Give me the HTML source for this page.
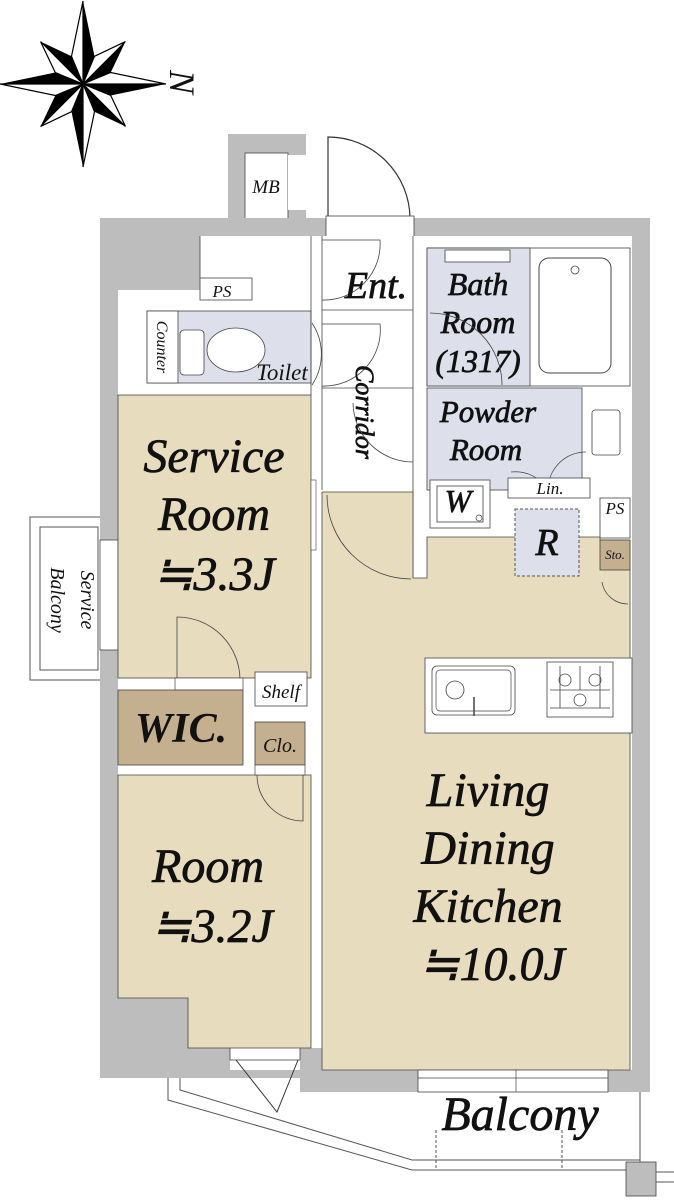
<!DOCTYPE html>
<html><head><meta charset="utf-8"><style>
html,body{margin:0;padding:0;background:#fff;}
svg{display:block}
text{font-family:"Liberation Serif",serif;font-style:italic;fill:#111;}
.big{stroke:#111;stroke-width:0.7;}
</style></head><body>
<svg width="674" height="1200" viewBox="0 0 674 1200" xmlns="http://www.w3.org/2000/svg">
<defs>
<g id="la"><polygon points="0,0 0,-83 11.5,-27.7" fill="#000"/><polygon points="0,0 0,-83 -11.5,-27.7" fill="#fff" stroke="#000" stroke-width="1.2"/></g>
<g id="sa"><polygon points="0,0 0,-60 11.5,-27.7" fill="#000"/><polygon points="0,0 0,-60 -11.5,-27.7" fill="#fff" stroke="#000" stroke-width="1.2"/></g>
</defs>
<g transform="translate(83,84)">
<use href="#sa" transform="rotate(45)"/><use href="#sa" transform="rotate(135)"/><use href="#sa" transform="rotate(225)"/><use href="#sa" transform="rotate(315)"/>
<use href="#la"/><use href="#la" transform="rotate(90)"/><use href="#la" transform="rotate(180)"/><use href="#la" transform="rotate(270)"/>
</g>
<text x="0" y="0" font-size="36" transform="translate(170,70) rotate(90)">N</text>

<!-- service balcony -->
<rect x="30" y="517" width="72" height="163" fill="#fff" stroke="#555" stroke-width="1"/>
<rect x="40" y="527" width="58" height="143" fill="#fff" stroke="#555" stroke-width="1"/>
<text font-size="20" text-anchor="middle" transform="translate(81,600) rotate(90)">Service</text>
<text font-size="20" text-anchor="middle" transform="translate(51,600) rotate(90)">Balcony</text>

<!-- MB -->
<rect x="228" y="134" width="78" height="86" fill="#bdbdbd"/>
<rect x="245" y="153" width="43" height="67" fill="#fff" stroke="#444" stroke-width="0.8"/>
<rect x="288" y="155" width="18" height="55" fill="#fff"/>
<text x="266" y="193" font-size="19" text-anchor="middle">MB</text>

<path d="M328,218 L328,137 A82,82 0 0 1 410,218" fill="none" stroke="#333" stroke-width="1.2"/>

<!-- outer walls -->
<rect x="100" y="218" width="550" height="874" fill="#bdbdbd"/>
<rect x="100" y="1078" width="205" height="16" fill="#fff"/>
<rect x="326" y="216" width="88" height="22" fill="#fff" stroke="#444" stroke-width="0.8"/>
<rect x="200" y="236" width="432" height="834" fill="#fff"/>
<rect x="118" y="290" width="200" height="708" fill="#fff"/>
<rect x="188" y="990" width="120" height="58" fill="#fff"/>
<rect x="305" y="1040" width="10" height="30" fill="#fff"/>
<rect x="188" y="1048" width="42" height="30" fill="#bdbdbd"/>
<rect x="300" y="1048" width="22" height="44" fill="#bdbdbd"/>
<rect x="230" y="1046" width="70" height="14" fill="#fff" stroke="#444" stroke-width="0.8"/>
<path d="M236,1060 L277,1112 L298,1060" fill="none" stroke="#333" stroke-width="1"/>
<rect x="100" y="540" width="18" height="110" fill="#fff" stroke="#444" stroke-width="0.8"/>

<!-- PS top -->
<rect x="200" y="278" width="52" height="22" fill="#fff" stroke="#444" stroke-width="0.8"/>
<text x="222" y="297" font-size="17" text-anchor="middle">PS</text>
<line x1="200" y1="236" x2="200" y2="278" stroke="#444" stroke-width="0.8"/>

<!-- toilet -->
<rect x="147" y="311" width="164" height="72" fill="#dde0ea" stroke="#444" stroke-width="0.8"/>
<rect x="147" y="311" width="31" height="72" fill="#fff" stroke="#444" stroke-width="0.8"/>
<text font-size="16" text-anchor="middle" transform="translate(157,347) rotate(90)">Counter</text>
<rect x="180" y="330" width="24" height="45" rx="4" fill="#fff" stroke="#444" stroke-width="0.8"/>
<ellipse cx="236" cy="350" rx="29" ry="22" fill="#fff" stroke="#444" stroke-width="0.8"/>
<text x="282" y="380" font-size="23" text-anchor="middle">Toilet</text>
<path d="M312,323 A56,56 0 0 1 312,385" fill="none" stroke="#444" stroke-width="0.8"/>
<path d="M322,240 L380,240 A56,56 0 0 1 322,300" fill="none" stroke="#444" stroke-width="0.8"/>
<path d="M322,324 L380,324 A56,56 0 0 1 322,386" fill="none" stroke="#444" stroke-width="0.8"/>
<line x1="311" y1="236" x2="311" y2="395" stroke="#444" stroke-width="0.8"/>
<line x1="322" y1="236" x2="322" y2="490" stroke="#444" stroke-width="0.8"/>
<line x1="413" y1="236" x2="413" y2="580" stroke="#444" stroke-width="0.8"/>
<line x1="322" y1="310" x2="413" y2="310" stroke="#444" stroke-width="0.8"/>
<line x1="322" y1="388" x2="413" y2="388" stroke="#444" stroke-width="0.8"/>

<text x="376" y="298" font-size="38" text-anchor="middle" class="big">Ent.</text>
<text font-size="26" text-anchor="middle" class="big" transform="translate(356,412) rotate(90)">Corridor</text>
<path d="M353,403 A60,60 0 0 0 413,462" fill="none" stroke="#444" stroke-width="0.8"/>

<!-- bath -->
<rect x="427" y="248" width="203" height="138" fill="#fff" stroke="#444" stroke-width="0.8"/>
<rect x="427" y="248" width="103" height="138" fill="#dde0ea" stroke="#444" stroke-width="0.8"/>
<rect x="445" y="250" width="65" height="12" fill="#fff" stroke="#444" stroke-width="0.8"/>
<rect x="539" y="258" width="72" height="115" rx="10" fill="#fff" stroke="#444" stroke-width="1"/>
<circle cx="575" cy="270" r="4" fill="#fff" stroke="#444" stroke-width="0.8"/>
<text x="478" y="295" font-size="32" text-anchor="middle" class="big">Bath</text>
<text x="478" y="333" font-size="32" text-anchor="middle" class="big">Room</text>
<text x="478" y="372" font-size="32" text-anchor="middle" class="big">(1317)</text>
<path d="M430,313 A72,72 0 0 1 502,385" fill="none" stroke="#444" stroke-width="0.8"/>

<!-- powder -->
<rect x="427" y="388" width="155" height="102" fill="#dde0ea" stroke="#444" stroke-width="0.8"/>
<rect x="592" y="410" width="28" height="45" rx="3" fill="#fff" stroke="#444" stroke-width="0.8"/>
<text x="488" y="422" font-size="31" text-anchor="middle" class="big">Powder</text>
<text x="486" y="460" font-size="31" text-anchor="middle" class="big">Room</text>
<path d="M511,472 A38,38 0 0 1 548,490 M586,452 A38,38 0 0 0 548,490" fill="none" stroke="#444" stroke-width="0.8"/>
<rect x="430" y="480" width="60" height="48" fill="#fff" stroke="#444" stroke-width="0.8"/>
<rect x="437" y="486" width="46" height="36" fill="#fff" stroke="#444" stroke-width="0.8"/>
<text x="458" y="512" font-size="32" text-anchor="middle" class="big">W</text>
<circle cx="479" cy="518" r="3" fill="none" stroke="#444" stroke-width="0.7"/>
<rect x="508" y="478" width="82" height="20" fill="#fff" stroke="#444" stroke-width="0.8"/>
<text x="550" y="494" font-size="17" text-anchor="middle">Lin.</text>
<rect x="600" y="498" width="30" height="40" fill="#fff" stroke="#444" stroke-width="0.8"/>
<text x="615" y="514" font-size="17" text-anchor="middle">PS</text>

<!-- LDK -->
<path d="M322,492 L413,492 L413,578 L427,578 L427,537 L600,537 L600,540 L630,540 L630,1070 L322,1070 Z" fill="#e8dcbf" stroke="#444" stroke-width="0.8"/>
<path d="M327,495 A84,84 0 0 0 411,579" fill="none" stroke="#444" stroke-width="0.8"/>
<rect x="515" y="509" width="64" height="67" fill="#dde0ea" stroke="#555" stroke-width="1" stroke-dasharray="3,2"/>
<text x="547" y="555" font-size="38" text-anchor="middle" class="big">R</text>
<rect x="600" y="540" width="30" height="30" fill="#c4b08f" stroke="#444" stroke-width="0.8"/>
<text x="615" y="559" font-size="13" text-anchor="middle">Sto.</text>
<path d="M602,582 A26,26 0 0 0 628,604" fill="none" stroke="#444" stroke-width="0.8"/>
<rect x="425" y="658" width="207" height="75" fill="#fff" stroke="#444" stroke-width="0.8"/>
<rect x="432" y="666" width="83" height="49" rx="5" fill="#fff" stroke="#444" stroke-width="0.8"/>
<rect x="436" y="670" width="75" height="41" rx="4" fill="none" stroke="#444" stroke-width="0.7"/>
<circle cx="455" cy="690" r="9" fill="none" stroke="#444" stroke-width="0.8"/>
<line x1="474" y1="697" x2="474" y2="716" stroke="#444" stroke-width="1.5"/>
<rect x="547" y="662" width="66" height="55" fill="#fff" stroke="#444" stroke-width="0.8"/>
<g fill="none" stroke="#444" stroke-width="0.8">
<circle cx="565" cy="680" r="6"/><circle cx="595" cy="680" r="6"/><circle cx="580" cy="700" r="6"/>
<line x1="550" y1="690" x2="610" y2="690"/><line x1="550" y1="708" x2="610" y2="708"/>
<line x1="560" y1="666" x2="560" y2="708"/><line x1="580" y1="666" x2="580" y2="690"/><line x1="600" y1="666" x2="600" y2="708"/>
</g>
<text x="488" y="806" font-size="48" text-anchor="middle" class="big">Living</text>
<text x="488" y="864" font-size="48" text-anchor="middle" class="big">Dining</text>
<text x="488" y="922" font-size="48" text-anchor="middle" class="big">Kitchen</text>
<text x="492" y="980" font-size="48" text-anchor="middle" class="big">≒10.0J</text>
<rect x="418" y="1070" width="190" height="22" fill="#fff" stroke="#444" stroke-width="0.8"/>
<line x1="418" y1="1078" x2="608" y2="1078" stroke="#444" stroke-width="0.7"/>
<line x1="516" y1="1070" x2="516" y2="1092" stroke="#444" stroke-width="0.7"/>

<!-- service room -->
<rect x="118" y="395" width="193" height="283" fill="#e8dcbf" stroke="#444" stroke-width="0.8"/>
<text x="214" y="472" font-size="48" text-anchor="middle" class="big">Service</text>
<text x="214" y="530" font-size="48" text-anchor="middle" class="big">Room</text>
<text x="214" y="590" font-size="48" text-anchor="middle" class="big">≒3.3J</text>
<rect x="311" y="480" width="5" height="70" fill="#fff" stroke="#444" stroke-width="0.6"/>
<path d="M177,680 L177,617 A63,63 0 0 1 240,680" fill="none" stroke="#444" stroke-width="0.8"/>
<rect x="175" y="678" width="68" height="12" fill="#fff" stroke="#444" stroke-width="0.7"/>

<rect x="118" y="690" width="125" height="75" fill="#c4b08f" stroke="#444" stroke-width="0.8"/>
<text x="181" y="742" font-size="42" text-anchor="middle" font-weight="bold">WIC.</text>
<rect x="255" y="672" width="52" height="34" fill="#fff" stroke="#444" stroke-width="0.8"/>
<text x="281" y="698" font-size="19" text-anchor="middle">Shelf</text>
<rect x="255" y="722" width="50" height="43" fill="#c4b08f" stroke="#444" stroke-width="0.8"/>
<text x="280" y="752" font-size="20" text-anchor="middle">Clo.</text>

<!-- room -->
<path d="M118,775 L311,775 L311,1048 L188,1048 L188,998 L118,998 Z" fill="#e8dcbf" stroke="#444" stroke-width="0.8"/>
<rect x="255" y="765" width="50" height="10" fill="#fff" stroke="#444" stroke-width="0.7"/>
<path d="M257,775 A46,46 0 0 0 303,821 L303,775" fill="none" stroke="#444" stroke-width="0.8"/>
<text x="208" y="882" font-size="48" text-anchor="middle" class="big">Room</text>
<text x="212" y="942" font-size="48" text-anchor="middle" class="big">≒3.2J</text>

<!-- balcony -->
<g fill="none" stroke="#555" stroke-width="1">
<polyline points="168,1078 168,1100 412,1170 640,1170"/>
<polyline points="180,1078 180,1090 412,1160 640,1160"/>
<line x1="640" y1="1092" x2="640" y2="1162"/>
<line x1="436" y1="1130" x2="436" y2="1168" stroke-dasharray="3,2"/>
<line x1="562" y1="1130" x2="562" y2="1168" stroke-dasharray="3,2"/>
</g>
<rect x="626" y="1162" width="30" height="34" fill="#bdbdbd" stroke="#444" stroke-width="0.8"/>
<line x1="656" y1="1172" x2="674" y2="1172" stroke="#555"/>
<line x1="656" y1="1182" x2="674" y2="1182" stroke="#555"/>
<text x="520" y="1130" font-size="48" text-anchor="middle" class="big">Balcony</text>
</svg>
</body></html>
